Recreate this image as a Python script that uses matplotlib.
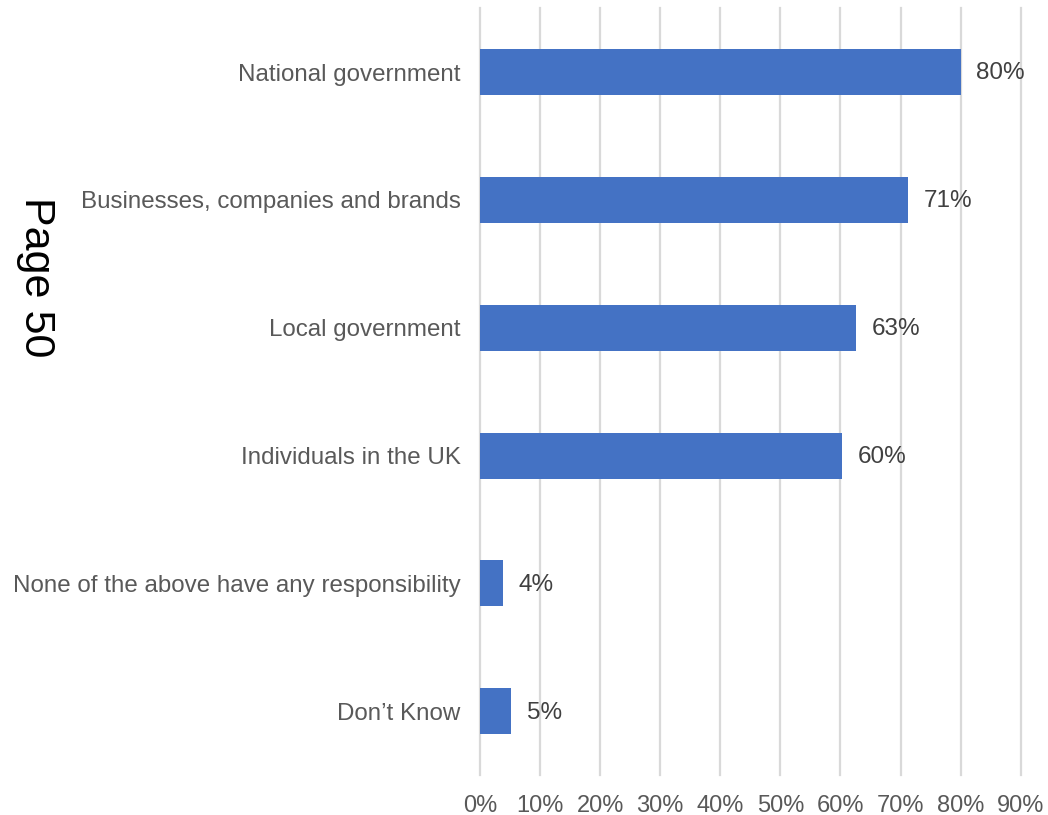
import numpy as np
import matplotlib.pyplot as plt

plt.rcParams['font.family'] = ['Liberation Sans', 'DejaVu Sans']

categories = ['National government', 'Businesses, companies and brands', 'Local government',
              'Individuals in the UK', 'None of the above have any responsibility', "Don\u2019t Know"]
values = [80.0, 71.3, 62.6, 60.3, 3.8, 5.2]
labels = ['80%', '71%', '63%', '60%', '4%', '5%']
ticks = np.arange(0, 100, 10)

fig = plt.figure(figsize=(10.48, 8.15), dpi=100)
ax = fig.add_axes([0.458, 0.049, 0.516, 0.941])

y = np.arange(len(categories))
ax.barh(y, values, height=0.36, color='#4472C4', zorder=3)
for yi, v, lab in zip(y, values, labels):
    ax.annotate(lab, (v, yi), xytext=(11, -1), textcoords='offset points',
                va='center', ha='left', fontsize=17.5, color='#404040')

ax.set_xlim(0, 90)
ax.set_ylim(len(categories) - 0.5, -0.5)
ax.set_xticks(ticks)
ax.set_xticklabels([f'{t}%' for t in ticks])
ax.set_yticks(y)
ax.set_yticklabels(categories)
ax.tick_params(axis='both', length=0, labelsize=17, labelcolor='#595959')
ax.tick_params(axis='y', pad=14, labelsize=17.4)
ax.tick_params(axis='x', pad=14)
ax.xaxis.grid(True, color='#d9d9d9', linewidth=1.6, zorder=0)
for gl in ax.get_xgridlines():
    gl.set_clip_on(False)
for s in ax.spines.values():
    s.set_visible(False)

fig.text(0.034, 0.66, 'Page 50', rotation=-90, fontsize=31, ha='center', va='center', color='black')

fig.savefig('out.png', dpi=100)
